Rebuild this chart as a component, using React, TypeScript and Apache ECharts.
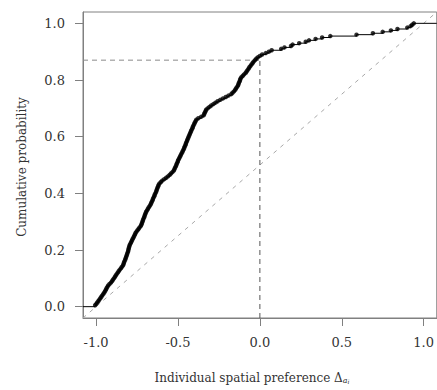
import React, { useEffect, useRef } from "react";
import * as echarts from "echarts";

// Sorted individual spatial preferences
const preference: number[] = [
  -1.006, -0.999, -0.993, -0.986, -0.98,
  -0.974, -0.968, -0.962, -0.956, -0.95,
  -0.945, -0.94, -0.936, -0.931, -0.926,
  -0.918, -0.909,
  -0.903, -0.897, -0.891, -0.885, -0.88, -0.874, -0.868,
  -0.862, -0.856, -0.849, -0.843, -0.836,
  -0.833, -0.83, -0.827, -0.823, -0.82, -0.817, -0.814, -0.811, -0.808,
  -0.805, -0.803, -0.801, -0.799, -0.796,
  -0.793, -0.788, -0.784, -0.78, -0.776, -0.771, -0.767, -0.763, -0.759,
  -0.753, -0.747, -0.74, -0.734, -0.727,
  -0.723, -0.72, -0.717, -0.714, -0.711, -0.707, -0.704, -0.701, -0.698,
  -0.694, -0.689, -0.684, -0.679, -0.673, -0.668,
  -0.664, -0.66, -0.656, -0.653, -0.649, -0.645, -0.642, -0.638,
  -0.634, -0.631, -0.628, -0.625, -0.621, -0.618,
  -0.613, -0.604, -0.596,
  -0.584, -0.572, -0.561,
  -0.551, -0.543, -0.534, -0.526,
  -0.522, -0.518, -0.514, -0.51, -0.507, -0.503, -0.5, -0.496,
  -0.492, -0.487, -0.483, -0.479, -0.474, -0.47, -0.466,
  -0.462, -0.459, -0.455, -0.452, -0.449, -0.445, -0.442, -0.438, -0.435,
  -0.431, -0.427, -0.424, -0.42, -0.416, -0.412, -0.409, -0.405,
  -0.401, -0.397, -0.392, -0.388,
  -0.376, -0.359,
  -0.344, -0.34, -0.336, -0.332, -0.328,
  -0.319, -0.308, -0.297,
  -0.284, -0.271, -0.258,
  -0.242, -0.225,
  -0.208, -0.192, -0.175,
  -0.167, -0.158,
  -0.151, -0.146, -0.14,
  -0.134, -0.131, -0.128, -0.124, -0.121, -0.118,
  -0.113, -0.104, -0.096, -0.087,
  -0.081, -0.075, -0.069,
  -0.064, -0.057, -0.051, -0.044, -0.038,
  -0.03, -0.022,
  -0.013, 0.0,
  0.014, 0.036,
  0.055, 0.072,
  0.13, 0.15, 0.19, 0.2, 0.24, 0.28, 0.3, 0.34, 0.38, 0.43,
  0.59, 0.69, 0.75, 0.8, 0.84, 0.9, 0.92, 0.93, 0.94,
];

const xTicks = [-1.0, -0.5, 0.0, 0.5, 1.0];
const yTicks = [0.0, 0.2, 0.4, 0.6, 0.8, 1.0];
const xRange = [-1.08, 1.08];
const yRange = [-0.04, 1.04];
const refLevel = 0.87; // cumulative probability at zero
const refX = 0;
const diagonal = [
  [-1, 0],
  [1, 1],
];

const FONT = "DejaVu Serif";

export default function App() {
  const ref = useRef<HTMLDivElement>(null);
  useEffect(() => {
    document.body.style.margin = "0";
    if (!ref.current) return;
    const chart = echarts.init(ref.current, null, { renderer: "svg" });
    const n = preference.length;
    const ecdf = preference.map((v, i) => [v, (i + 1) / n]);
    const stepLine = [[xRange[0], 0], ...ecdf, [xRange[1], 1]];
    const slope = (diagonal[1][1] - diagonal[0][1]) / (diagonal[1][0] - diagonal[0][0]);
    const diagData = [
      [xRange[0], diagonal[0][1] + slope * (xRange[0] - diagonal[0][0])],
      [xRange[1], diagonal[0][1] + slope * (xRange[1] - diagonal[0][0])],
    ];
    const axisGrey = "#808080";
    const labelStyle = {
      formatter: (v: number) => v.toFixed(1),
      fontFamily: FONT,
      fontSize: 13,
      color: "#333",
      margin: 18,
    };
    chart.setOption({
      animation: false,
      backgroundColor: "#ffffff",
      textStyle: { fontFamily: FONT },
      grid: {
        left: 83,
        top: 12,
        width: 359,
        height: 306,
        show: true,
        borderColor: axisGrey,
        borderWidth: 1,
      },
      xAxis: {
        type: "value",
        min: xRange[0],
        max: xRange[1],
        splitLine: { show: false },
        axisLine: { show: true, onZero: false, lineStyle: { color: axisGrey, width: 1 } },
        axisTick: {
          show: true,
          length: 8,
          inside: false,
          customValues: xTicks,
          lineStyle: { color: axisGrey, width: 1 },
        },
        axisLabel: { ...labelStyle, customValues: xTicks },
      },
      yAxis: {
        type: "value",
        min: yRange[0],
        max: yRange[1],
        splitLine: { show: false },
        axisLine: { show: true, onZero: false, lineStyle: { color: axisGrey, width: 1 } },
        axisTick: {
          show: true,
          length: 8,
          inside: false,
          customValues: yTicks,
          lineStyle: { color: axisGrey, width: 1 },
        },
        axisLabel: { ...labelStyle, customValues: yTicks },
      },
      graphic: [
        {
          type: "text",
          x: 22,
          y: 167,
          rotation: Math.PI / 2,
          style: {
            text: "Cumulative probability",
            fontFamily: FONT,
            fontSize: 12,
            fill: "#333",
            align: "center",
            verticalAlign: "middle",
          },
        },
        {
          type: "text",
          x: 252,
          y: 378,
          style: {
            text: "Individual spatial preference Δ{sub|a}{subsub|i}",
            fontFamily: FONT,
            fontSize: 12,
            fill: "#333",
            align: "center",
            verticalAlign: "middle",
            rich: {
              sub: {
                fontFamily: FONT,
                fontSize: 8,
                fontStyle: "italic",
                fill: "#333",
                verticalAlign: "bottom",
                lineHeight: 9,
              },
              subsub: {
                fontFamily: FONT,
                fontSize: 6,
                fontStyle: "italic",
                fill: "#333",
                verticalAlign: "bottom",
                lineHeight: 5,
              },
            },
          },
        },
      ],
      series: [
        {
          type: "line",
          data: diagData,
          symbol: "none",
          silent: true,
          lineStyle: { color: "#a8a8a8", width: 1, type: [4, 5] },
          z: 1,
        },
        {
          type: "line",
          data: [
            [xRange[0], refLevel],
            [refX, refLevel],
          ],
          symbol: "none",
          silent: true,
          lineStyle: { color: "#8a8a8a", width: 1, type: [5, 4] },
          z: 1,
        },
        {
          type: "line",
          data: [
            [refX, yRange[0]],
            [refX, refLevel],
          ],
          symbol: "none",
          silent: true,
          lineStyle: { color: "#555", width: 1, type: [5, 4] },
          z: 1,
        },
        {
          type: "line",
          data: stepLine,
          step: "end",
          symbol: "none",
          silent: true,
          lineStyle: { color: "#000", width: 1 },
          z: 2,
        },
        {
          type: "scatter",
          data: ecdf,
          symbol: "circle",
          symbolSize: 4.5,
          silent: true,
          itemStyle: { color: "#000" },
          z: 3,
        },
      ],
    });
    return () => chart.dispose();
  }, []);
  return <div ref={ref} style={{ width: 437, height: 390 }} />;
}
